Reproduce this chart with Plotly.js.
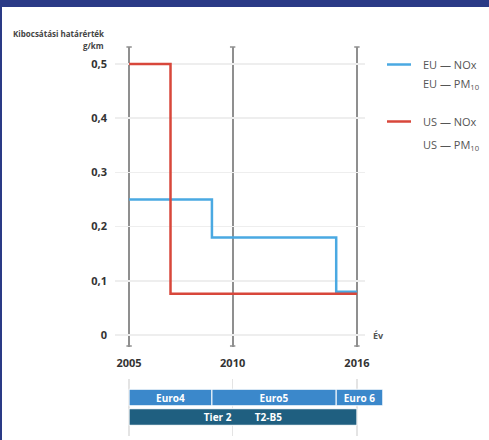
<!DOCTYPE html>
<html>
<head>
<meta charset="utf-8">
<script src="https://cdn.plot.ly/plotly-3.0.1.min.js"></script>
<style>
  html, body { margin: 0; padding: 0; background: #ffffff; }
  #wrap { position: relative; width: 489px; height: 440px; overflow: hidden; }
  #chart { width: 489px; height: 440px; }
  .band-top { position: absolute; left: 0; top: 0; width: 489px; height: 7px; background: #2a3a86; }
  .band-left { position: absolute; left: 0; top: 0; width: 2px; height: 440px; background: #2a3a86; }
</style>
</head>
<body>
<div id="wrap">
  <div id="chart"></div>
  <div class="band-top"></div>
  <div class="band-left"></div>
</div>
<script>
// Emission limit steps (g/km) by year
const euYears = [2005, 2009, 2015, 2016];
const euNox = [0.25, 0.18, 0.08, 0.08];
const usYears = [2005, 2007, 2016];
const usNox = [0.5, 0.076, 0.076];

// Axis ticks
const yearTicks = [2005, 2010, 2016];
const yearLabels = ['2005', '2010', '2016'];
const limitTicks = [0, 0.1, 0.2, 0.3, 0.4, 0.5];
const limitLabels = ['0', '0,1', '0,2', '0,3', '0,4', '0,5'];

// Regulation periods shown under the chart
const euroNames = ['Euro4', 'Euro5', 'Euro 6'];
const euroStart = [2005, 2009, 2015];
const euroEnd = [2009, 2015, 2017.25];
const tierNames = ['Tier 2\u00a0\u00a0\u00a0\u00a0\u00a0\u00a0\u00a0\u00a0\u00a0T2-B5'];
const tierStart = [2005];
const tierEnd = [2016];

// Legend entries
const legendItems = [
  { text: 'EU — NOx', color: '#4aa9e2' },
  { text: 'EU — PM<sub>10</sub>', color: null },
  { text: 'US — NOx', color: '#d8473b' },
  { text: 'US — PM<sub>10</sub>', color: null }
];

const W = 489, H = 440;
const M = { l: 115, r: 104, t: 47, b: 4 };
const PW = W - M.l - M.r, PH = H - M.t - M.b;
const px = x => (x - M.l) / PW;
const py = y => (H - M.b - y) / PH;

const BLUE = '#4aa9e2', RED = '#d8473b';
const textFont = { family: 'Open Sans, sans-serif', size: 11, color: '#333333', weight: 'bold' };

const traces = [
  {
    type: 'scatter', mode: 'lines', x: euYears, y: euNox,
    line: { shape: 'hv', color: BLUE, width: 2.5 }, hoverinfo: 'skip', showlegend: false
  },
  {
    type: 'scatter', mode: 'lines', x: usYears, y: usNox,
    line: { shape: 'hv', color: RED, width: 2.5 }, hoverinfo: 'skip', showlegend: false
  },
  {
    type: 'bar', orientation: 'h', xaxis: 'x2', yaxis: 'y2',
    y: euroNames.map(() => 1), base: euroStart,
    x: euroEnd.map((e, i) => e - euroStart[i]),
    width: 0.85, text: euroNames, textposition: 'inside', insidetextanchor: 'middle',
    constraintext: 'none',
    textfont: { family: 'Open Sans, sans-serif', size: 10, color: '#ffffff', weight: 'bold' },
    marker: { color: '#3b88cb', line: { color: '#ffffff', width: 1 } },
    hoverinfo: 'skip', showlegend: false
  },
  {
    type: 'bar', orientation: 'h', xaxis: 'x2', yaxis: 'y2',
    y: tierNames.map(() => 0), base: tierStart,
    x: tierEnd.map((e, i) => e - tierStart[i]),
    width: 0.85, text: tierNames, textposition: 'inside', insidetextanchor: 'middle',
    constraintext: 'none',
    textfont: { family: 'Open Sans, sans-serif', size: 10, color: '#ffffff', weight: 'bold' },
    marker: { color: '#1f5f80', line: { color: '#ffffff', width: 1 } },
    hoverinfo: 'skip', showlegend: false
  }
];

const pxPerYear = (PW * 0.9259) / (2016.39 - 2004.32);

const shapes = [];
// Caps at both ends of the year lines
yearTicks.forEach(v => {
  [1, py(346)].forEach(yy => {
    shapes.push({ type: 'line', xref: 'x', yref: 'paper', x0: v - 0.13, x1: v + 0.13, y0: yy, y1: yy,
      line: { color: '#8f8f8f', width: 1.5 } });
  });
});

const annotations = [
  { xref: 'paper', yref: 'paper', x: px(106), y: py(33), xanchor: 'right', yanchor: 'middle',
    text: 'Kibocsátási határérték', showarrow: false,
    font: { family: 'Open Sans, sans-serif', size: 8, color: '#444444', weight: 'bold' } },
  { xref: 'paper', yref: 'paper', x: px(106), y: py(45.5), xanchor: 'right', yanchor: 'middle',
    text: 'g/km', showarrow: false,
    font: { family: 'Open Sans, sans-serif', size: 8, color: '#444444', weight: 'bold' } },
  { xref: 'paper', yref: 'paper', x: px(378), y: py(335), xanchor: 'center', yanchor: 'middle',
    text: 'Év', showarrow: false,
    font: { family: 'Open Sans, sans-serif', size: 9, color: '#555555', weight: 'bold' } }
];

const legendY = [64.5, 84, 121.5, 145];
legendItems.forEach((it, i) => {
  annotations.push({ xref: 'paper', yref: 'paper', x: px(421), y: py(legendY[i]),
    xanchor: 'left', yanchor: 'middle', text: it.text, showarrow: false,
    font: { family: 'Open Sans, sans-serif', size: 11, color: '#555555' } });
  if (it.color) {
    shapes.push({ type: 'line', xref: 'paper', yref: 'paper', x0: px(387), x1: px(411),
      y0: py(legendY[i]), y1: py(legendY[i]), line: { color: it.color, width: 2.5 } });
  }
});

const layout = {
  width: W, height: H,
  margin: M,
  paper_bgcolor: '#ffffff', plot_bgcolor: 'rgba(0,0,0,0)',
  showlegend: false,
  separators: ', ',
  barmode: 'overlay',
  xaxis: {
    domain: [0, 0.9259], range: [2004.32, 2016.39], anchor: 'y',
    tickvals: yearTicks, ticktext: yearLabels, ticks: '', ticklabelstandoff: 8,
    showgrid: true, gridcolor: '#8f8f8f', gridwidth: 2,
    zeroline: false, showline: false, tickfont: textFont, fixedrange: true
  },
  yaxis: {
    domain: [py(347), 1], range: [-0.0221, 0.5314], anchor: 'x',
    tickvals: limitTicks, ticktext: limitLabels, ticks: '', ticklabelstandoff: 7,
    showgrid: true, gridcolor: '#eeeeee', gridwidth: 1.5,
    zeroline: false, showline: false, tickfont: textFont, fixedrange: true
  },
  xaxis2: {
    domain: [0, 1], range: [2004.32, 2004.32 + PW / pxPerYear], anchor: 'y2',
    tickvals: yearTicks, showticklabels: false, ticks: '',
    showgrid: true, gridcolor: '#e4e4e4', gridwidth: 1.5, zeroline: false, fixedrange: true
  },
  yaxis2: {
    domain: [0, py(379)], range: [-0.974, 1.949], anchor: 'x2',
    showticklabels: false, showgrid: false, zeroline: false, ticks: '', fixedrange: true
  },
  shapes: shapes,
  annotations: annotations
};

Plotly.newPlot('chart', traces, layout, { displayModeBar: false, staticPlot: true });
</script>
</body>
</html>
